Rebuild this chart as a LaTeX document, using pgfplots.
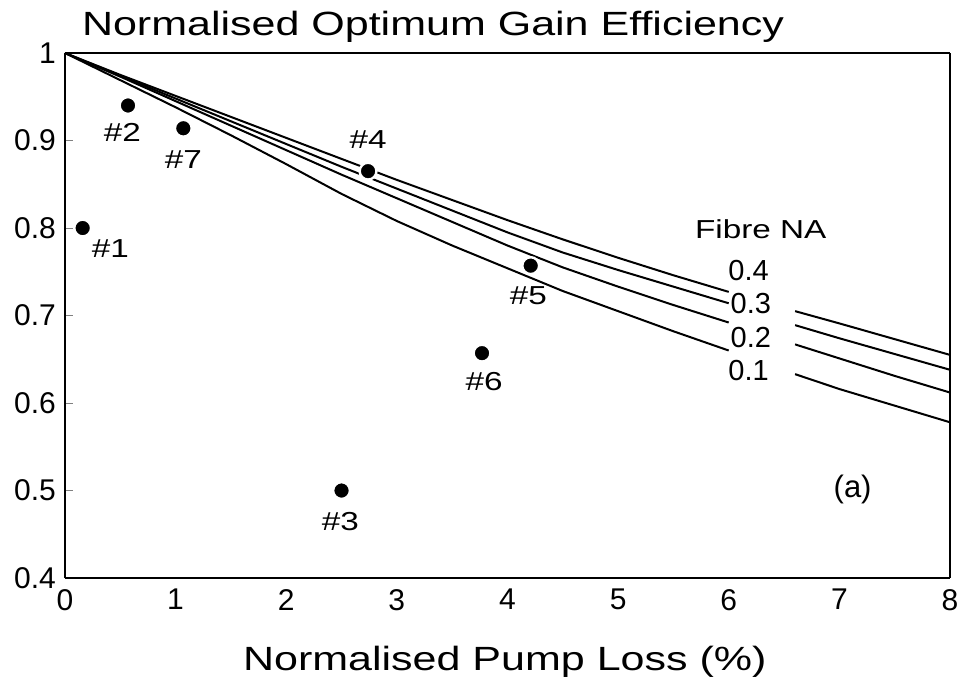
\documentclass[border=0pt]{standalone}
\usepackage{fontspec}
\setmainfont{Liberation Sans}
\newfontfamily\widefont[FakeStretch=1.28]{Liberation Sans}
\usepackage{pgfplots}
\pgfplotsset{compat=1.18}

\begin{document}
\begin{tikzpicture}
\begin{axis}[
  scale only axis, width=442.5pt, height=262.5pt,
  xmin=0, xmax=8, ymin=0.4, ymax=1,
  xtick={0,1,2,3,4,5,6,7,8},
  ytick={0.4,0.5,0.6,0.7,0.8,0.9,1},
  yticklabels={0.4,0.5,0.6,0.7,0.8,0.9,1},
  /pgf/number format/assume math mode=true,
  ticklabel style={font=\fontsize{15}{15}\selectfont},
  xtick style={draw=none},
  ytick pos=left, tick align=inside,
  major tick length=4pt,
  xticklabel style={yshift=-2pt},
  yticklabel style={xshift=-1pt},
  separate axis lines,
  every outer x axis line/.append style={line width=1.4pt},
  every outer y axis line/.append style={line width=0.6pt},
  unbounded coords=jump,
  clip=false,
]
% Fibre NA 0.4
\addplot[black, line width=1pt] coordinates {
(0,1) (0.5,0.975) (1,0.951) (1.5,0.927) (2,0.903) (2.5,0.879) (3,0.855)
(3.5,0.832) (4,0.809) (4.5,0.787) (5,0.766) (5.5,0.746) (6,0.727)
(6.3,nan) (6.6,0.705) (7,0.691) (7.5,0.673) (8,0.655)};
% Fibre NA 0.3
\addplot[black, line width=1pt] coordinates {
(0,1) (0.5,0.974) (1,0.948) (1.5,0.922) (2,0.896) (2.5,0.870) (3,0.845)
(3.5,0.820) (4,0.795) (4.5,0.772) (5,0.752) (5.5,0.733) (6,0.714)
(6.3,nan) (6.6,0.689) (7,0.674) (7.5,0.656) (8,0.638)};
% Fibre NA 0.2
\addplot[black, line width=1pt] coordinates {
(0,1) (0.5,0.973) (1,0.945) (1.5,0.917) (2,0.889) (2.5,0.861) (3,0.834)
(3.5,0.807) (4,0.780) (4.5,0.755) (5,0.733) (5.5,0.712) (6,0.692)
(6.3,nan) (6.6,0.667) (7,0.651) (7.5,0.631) (8,0.612)};
% Fibre NA 0.1
\addplot[black, line width=1pt] coordinates {
(0,1) (0.5,0.969) (1,0.938) (1.5,0.906) (2,0.873) (2.5,0.839) (3,0.808)
(3.5,0.780) (4,0.754) (4.5,0.728) (5,0.705) (5.5,0.682) (6,0.660)
(6.3,nan) (6.6,0.633) (7,0.616) (7.5,0.597) (8,0.578)};
% measured fibres
\addplot[only marks, mark=*, mark size=4.2pt,
  mark options={fill=black, draw=white, line width=1.2pt}] coordinates {
(0.16,0.800) (0.57,0.940) (2.50,0.500) (2.74,0.865)
(4.21,0.757) (3.77,0.657) (1.07,0.914)};

\begin{scope}[every node/.style={font=\fontsize{13}{13}\selectfont\widefont}]
\node at (axis cs:0.41,0.777) {\#1};
\node at (axis cs:0.52,0.909) {\#2};
\node at (axis cs:2.49,0.464) {\#3};
\node at (axis cs:2.74,0.901) {\#4};
\node at (axis cs:4.19,0.723) {\#5};
\node at (axis cs:3.79,0.624) {\#6};
\node at (axis cs:1.07,0.878) {\#7};
\end{scope}
\node[font=\fontsize{13}{13}\selectfont\widefont] at (axis cs:6.29,0.799) {Fibre NA};
\begin{scope}[every node/.style={font=\fontsize{14.5}{14.5}\selectfont}]
\node at (axis cs:6.18,0.752) {0.4};
\node at (axis cs:6.20,0.714) {0.3};
\node at (axis cs:6.20,0.675) {0.2};
\node at (axis cs:6.18,0.637) {0.1};
\node[font=\fontsize{15.5}{15.5}\selectfont] at (axis cs:7.12,0.501) {(a)};
\end{scope}
\node[anchor=base west, font=\fontsize{16.8}{17}\selectfont\widefont]
  at ([xshift=5pt, yshift=9pt]rel axis cs:0,1) {Normalised Optimum Gain Efficiency};
\node[anchor=base, font=\fontsize{16.8}{17}\selectfont\widefont]
  at ([yshift=-46pt]rel axis cs:0.497,0) {Normalised Pump Loss (\%)};
\coordinate (bl) at (rel axis cs:-0.0734,-0.2133);
\coordinate (tr) at (rel axis cs:1.0102,1.101);
\end{axis}
\pgfresetboundingbox
\path[use as bounding box] (bl) rectangle (tr);
\end{tikzpicture}
\end{document}
